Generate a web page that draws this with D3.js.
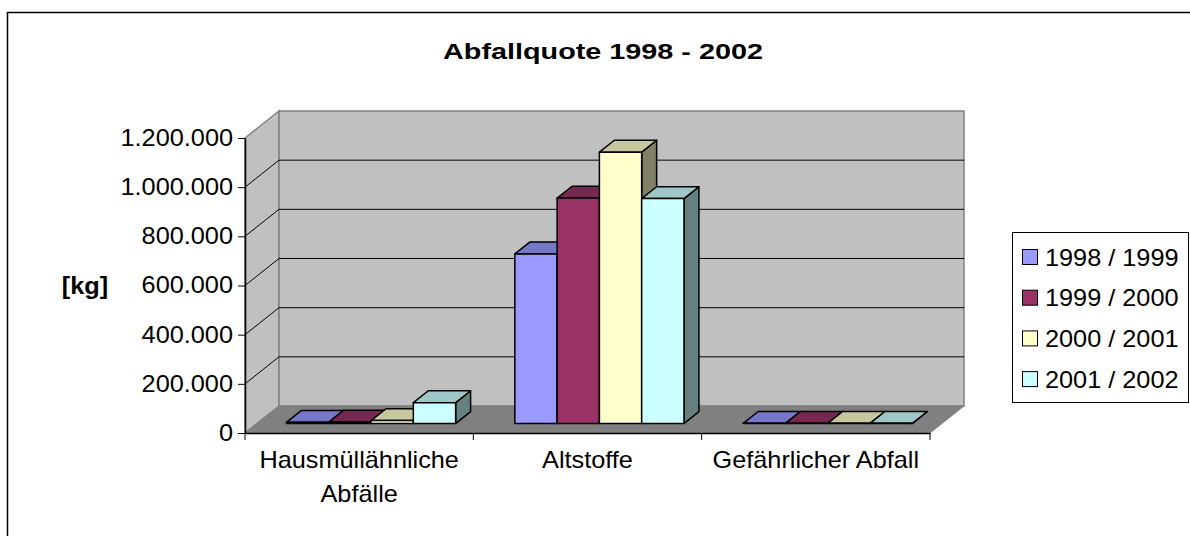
<!DOCTYPE html>
<html>
<head>
<meta charset="utf-8">
<script src="https://cdn.jsdelivr.net/npm/d3@7"></script>
<style>
    body { margin: 0; background: #fff; }
    svg text { font-family: "Liberation Sans", Arial, sans-serif; fill: #000; }
</style>
</head>
<body>
<div id="chart"></div>
<script>
// data
const categories = ["Hausmüllähnliche Abfälle", "Altstoffe", "Gefährlicher Abfall"];
const seriesNames = ["1998 / 1999", "1999 / 2000", "2000 / 2001", "2001 / 2002"];
const values9899 = [5000, 690000, 800];
const values9900 = [6000, 917000, 800];
const values0001 = [12000, 1104000, 800];
const values0102 = [85000, 915000, 800];
const yTicks = [0, 200000, 400000, 600000, 800000, 1000000, 1200000];
const colors = ["#9999FF", "#993366", "#FFFFCC", "#CCFFFF"];

const width = 1190, height = 536;
const plot = {left: 245, right: 930, top: 138, bottom: 433};
const depth = {dx: 34, dy: -27, front: 0.35, back: 0.79};
const stretch = 1.1; // the reference text is a little wider than the font
const fontSize = "23px";

const allValues = [values9899, values9900, values0001, values0102];
const series = seriesNames.map((name, i) => ({name: name, color: colors[i], values: allValues[i]}));

const svg = d3.select("#chart")
    .append("svg")
    .attr("width", width)
    .attr("height", height);

const locale = d3.formatLocale({decimal: ",", thousands: ".", grouping: [3], currency: ["", " €"]});
const fmt = locale.format(",d");

const x = d3.scaleBand().domain(categories).range([plot.left, plot.right]);
const xs = d3.scaleBand().domain(seriesNames).range([0, x.bandwidth()]).paddingOuter(0.7);
const y = d3.scaleLinear().domain([0, d3.max(yTicks)]).range([plot.bottom, plot.top]);
const yMax = d3.max(yTicks);

// point in the 3d box: front-plane x, value, depth fraction
const pt = (px, v, d) => [px + d * depth.dx, y(v) + d * depth.dy];
const poly = pts => pts.map(p => p.join(",")).join(" ");

// outer chart border
svg.append("rect")
    .attr("x", 7.5).attr("y", 12.5)
    .attr("width", 1200).attr("height", 600)
    .attr("fill", "none")
    .attr("stroke", "#000")
    .attr("stroke-width", 1.5);

// title
svg.append("text")
    .attr("transform", `translate(603,58.5) scale(1.28,1)`)
    .attr("text-anchor", "middle")
    .style("font-size", "22.5px")
    .style("font-weight", "bold")
    .text("Abfallquote 1998 - 2002");

// walls and floor
const x0 = plot.left, x1 = plot.right;
svg.append("polygon")
    .attr("points", poly([pt(x0, 0, 0), pt(x0, yMax, 0), pt(x0, yMax, 1), pt(x0, 0, 1)]))
    .attr("fill", "#C0C0C0").attr("stroke", "#808080").attr("stroke-width", 1.5);
svg.append("polygon")
    .attr("points", poly([pt(x0, 0, 1), pt(x0, yMax, 1), pt(x1, yMax, 1), pt(x1, 0, 1)]))
    .attr("fill", "#C0C0C0").attr("stroke", "#808080").attr("stroke-width", 1.5);
svg.append("polygon")
    .attr("points", poly([pt(x0, 0, 0), pt(x0, 0, 1), pt(x1, 0, 1), pt(x1, 0, 0)]))
    .attr("fill", "#808080").attr("stroke", "#808080").attr("stroke-width", 1);

// gridlines on side and back wall
svg.append("g")
    .selectAll("polyline")
    .data(yTicks.filter(v => v > 0 && v < yMax))
    .enter()
    .append("polyline")
    .attr("points", v => poly([pt(x0, v, 0), pt(x0, v, 1), pt(x1, v, 1)]))
    .attr("fill", "none")
    .attr("stroke", "#000")
    .attr("stroke-width", 1);

// Y axis
const yAxis = svg.append("g")
    .attr("transform", `translate(${plot.left},0)`)
    .call(d3.axisLeft(y).tickValues(yTicks).tickFormat(fmt).tickSize(7).tickSizeOuter(0));
yAxis.attr("font-size", null).attr("font-family", null);
yAxis.select(".domain").attr("stroke", "#000").attr("stroke-width", 1.5);
yAxis.selectAll(".tick line").attr("stroke", "#000");
yAxis.selectAll(".tick text")
    .attr("x", 0)
    .attr("transform", `translate(-12,0) scale(${stretch},1)`)
    .style("font-size", fontSize);

// X axis
const xAxis = svg.append("g")
    .attr("transform", `translate(0,${plot.bottom})`)
    .call(d3.axisBottom(x).tickSize(0).tickSizeOuter(0));
xAxis.attr("font-size", null).attr("font-family", null);
xAxis.select(".domain").attr("stroke", "#000").attr("stroke-width", 1.5);

xAxis.append("g")
    .selectAll("line")
    .data(categories.map(c => x(c)).concat([x.range()[1]]))
    .enter()
    .append("line")
    .attr("x1", d => d).attr("x2", d => d)
    .attr("y1", 0).attr("y2", 7)
    .attr("stroke", "#000");

xAxis.selectAll(".tick text").each(function(d) {
    const t = d3.select(this);
    t.text(null).attr("y", 0).attr("dy", null)
        .attr("transform", `scale(${stretch},1)`)
        .style("font-size", fontSize);
    // wrap words to the band width
    const words = d.split(" ");
    const lines = [];
    let line = [];
    words.forEach(w => {
        line.push(w);
        t.text(line.join(" "));
        if (this.getComputedTextLength() * stretch > x.bandwidth() - 10 && line.length > 1) {
            line.pop();
            lines.push(line.join(" "));
            line = [w];
        }
    });
    lines.push(line.join(" "));
    t.text(null);
    lines.forEach((l, i) => {
        t.append("tspan").attr("x", 0).attr("y", 35.5 + i * 33.5).text(l);
    });
});

// bars, drawn left to right so each front face covers the previous side face
const shade = (c, k) => { const r = d3.rgb(c); return d3.rgb(r.r * k, r.g * k, r.b * k).formatHex(); };
const bars = [];
categories.forEach((c, ci) => {
    series.forEach(s => {
        bars.push({cat: c, name: s.name, color: s.color, value: s.values[ci]});
    });
});

const barG = svg.append("g")
    .selectAll("g")
    .data(bars)
    .enter()
    .append("g")
    .attr("stroke", "#000")
    .attr("stroke-width", 1.5)
    .attr("stroke-linejoin", "round");

const xl = d => x(d.cat) + xs(d.name);
const xr = d => x(d.cat) + xs(d.name) + xs.bandwidth();
const f0 = depth.front, f1 = depth.back;

barG.append("polygon")
    .attr("points", d => poly([pt(xr(d), 0, f0), pt(xr(d), d.value, f0), pt(xr(d), d.value, f1), pt(xr(d), 0, f1)]))
    .attr("fill", d => shade(d.color, 0.5));
barG.append("polygon")
    .attr("points", d => poly([pt(xl(d), d.value, f0), pt(xr(d), d.value, f0), pt(xr(d), d.value, f1), pt(xl(d), d.value, f1)]))
    .attr("fill", d => shade(d.color, 0.78));
barG.append("polygon")
    .attr("points", d => poly([pt(xl(d), 0, f0), pt(xr(d), 0, f0), pt(xr(d), d.value, f0), pt(xl(d), d.value, f0)]))
    .attr("fill", d => d.color);

// y axis title
svg.append("text")
    .attr("transform", `translate(85,${y(600000) + 8}) scale(${stretch},1)`)
    .attr("text-anchor", "middle")
    .style("font-size", fontSize)
    .style("font-weight", "bold")
    .text("[kg]");

// legend
const legend = svg.append("g");
legend.append("rect")
    .attr("x", 1012.5).attr("y", 232.5)
    .attr("width", 176).attr("height", 170)
    .attr("fill", "#fff")
    .attr("stroke", "#000")
    .attr("stroke-width", 1);

const items = legend.selectAll(".item")
    .data(series)
    .enter()
    .append("g")
    .attr("class", "item")
    .attr("transform", (d, i) => `translate(1022,${257 + i * 40.7})`);

items.append("rect")
    .attr("x", 0.5).attr("y", -7.5)
    .attr("width", 15).attr("height", 15)
    .attr("fill", d => d.color)
    .attr("stroke", "#000")
    .attr("stroke-width", 1);

items.append("text")
    .attr("transform", `translate(23,8.5) scale(${stretch},1)`)
    .style("font-size", fontSize)
    .text(d => d.name);
</script>
</body>
</html>
